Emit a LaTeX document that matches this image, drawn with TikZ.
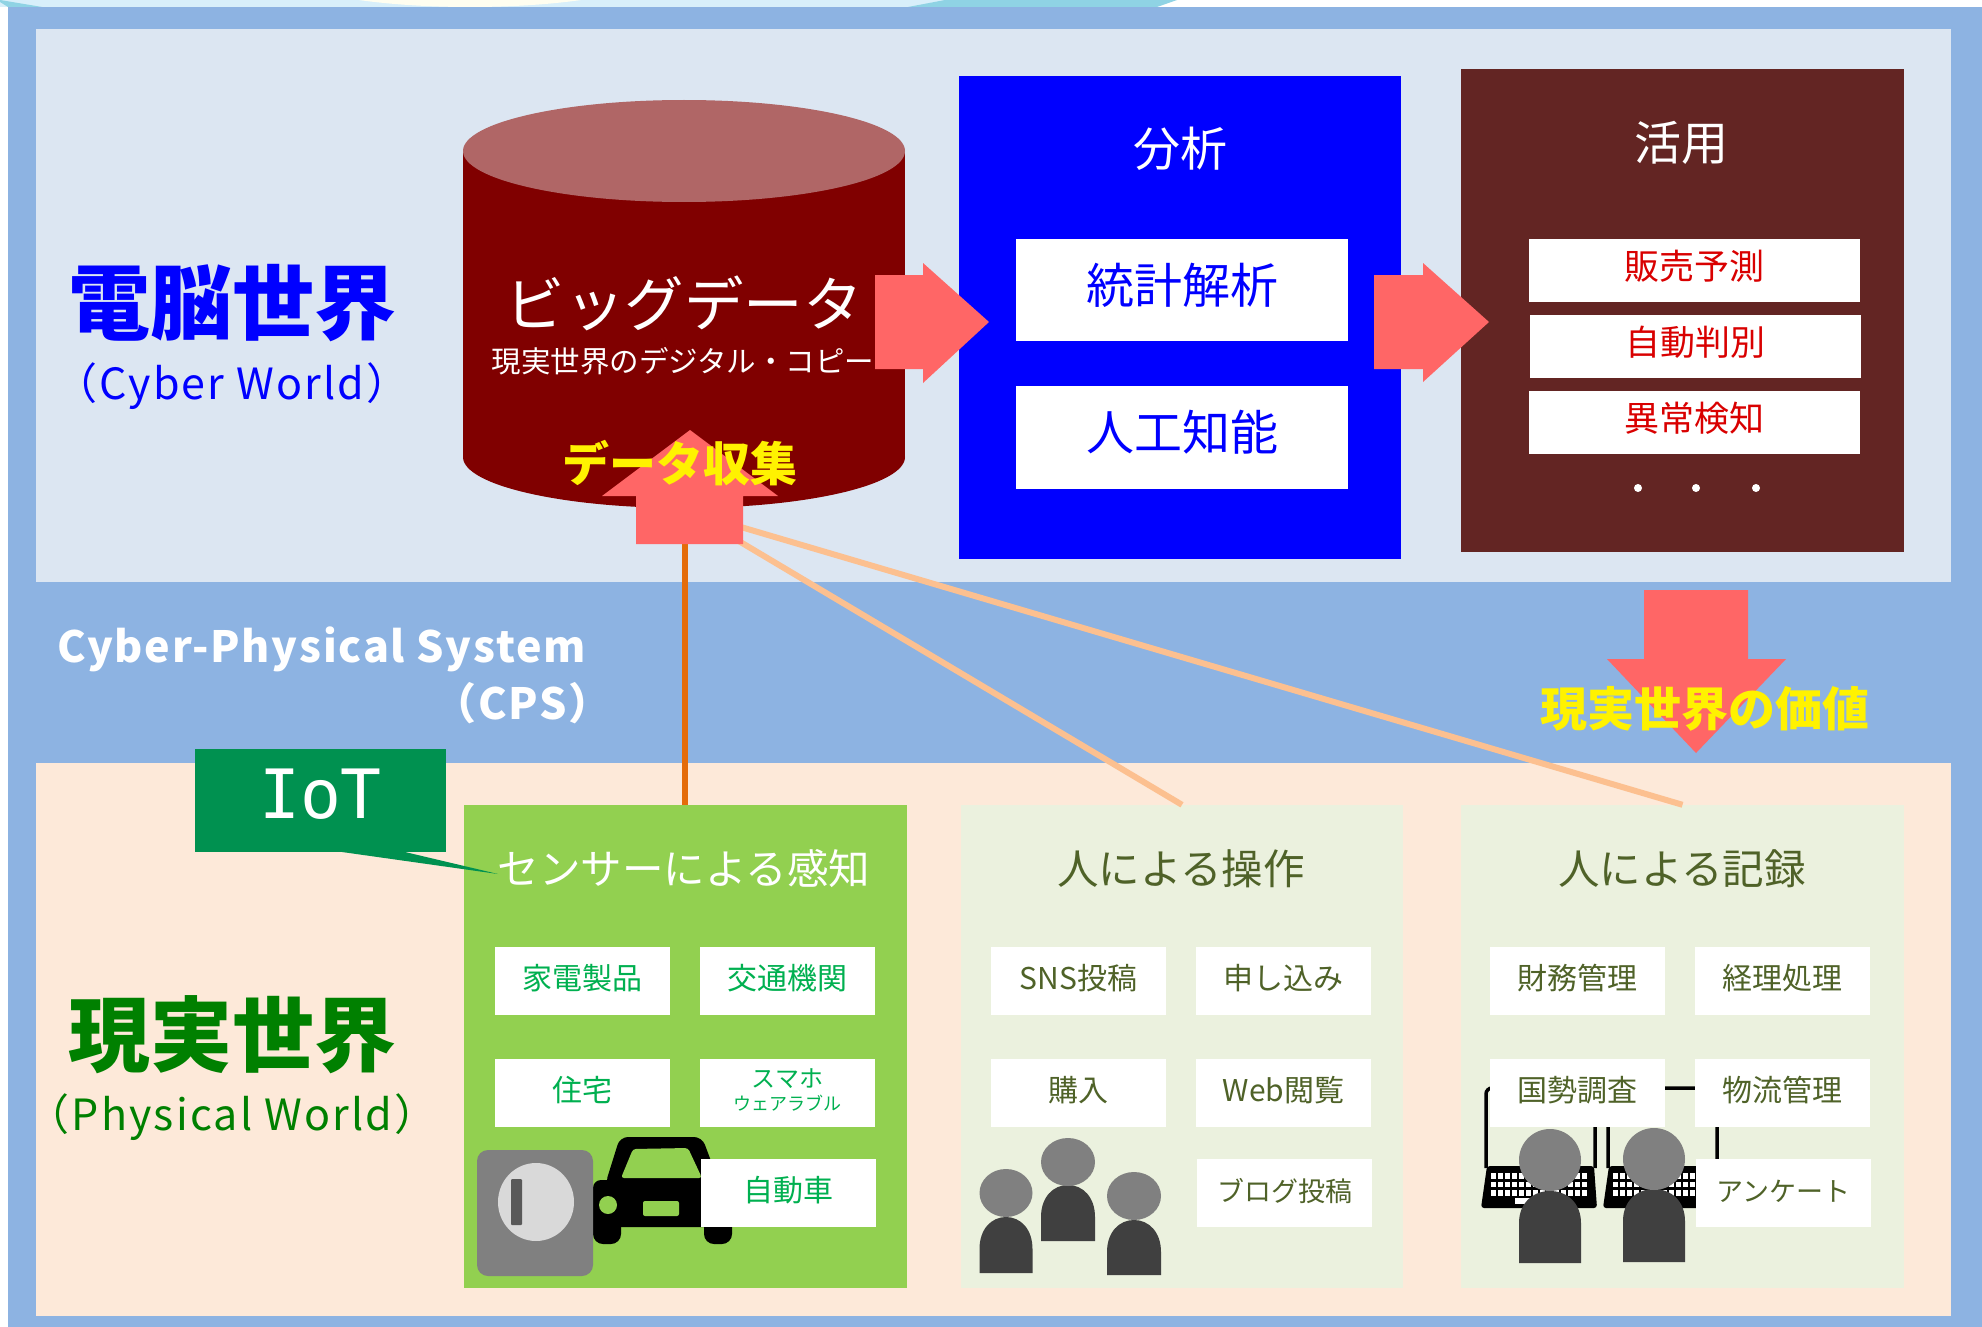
\documentclass[tikz,border=0pt]{standalone}
\usepackage{fontspec}
\usepackage{xcolor}
\setmainfont{Noto Sans CJK JP}
\newfontfamily\iotfont{DejaVu Sans Mono}
\newcommand{\fz}[1]{\fontsize{#1}{#1}\selectfont}
\newcommand{\wide}[1]{\addfontfeature{LetterSpace=#1}}
\tikzset{
  panelbox/.style={rectangle,inner sep=0pt,minimum width=443,minimum height=483},
  itembox/.style={rectangle,fill=white,inner sep=0pt,minimum width=175,minimum height=68,font=\fz{30},text height=22pt,text depth=5pt},
  analysisbox/.style={rectangle,fill=white,inner sep=0pt,minimum width=332,text=blue,font=\fz{48},text height=38pt,text depth=12pt},
  usagebox/.style={rectangle,fill=white,inner sep=0pt,minimum width=331,minimum height=63,text=red!85!black,font=\fz{35},text height=27pt,text depth=10pt},
  wordlabel/.style={inner sep=0pt,font=\fz{41.5}},
  bigarrow/.style={fill=arrowred},
  feedline/.style={draw=feedpeach,line width=6}
}
\begin{document}
\begin{tikzpicture}[x=1pt,y=-1pt]
% Define colours
\definecolor{framesky}{RGB}{141,179,226}
\definecolor{cyberpale}{RGB}{220,230,242}
\definecolor{realpale}{RGB}{253,233,217}
\definecolor{cylred}{RGB}{128,0,0}
\definecolor{cyltop}{RGB}{176,102,102}
\definecolor{usebrown}{RGB}{99,37,35}
\definecolor{arrowred}{RGB}{255,102,102}
\definecolor{feedpeach}{RGB}{252,192,144}
\definecolor{feedorange}{RGB}{228,108,10}
\definecolor{sensorgreen}{RGB}{146,208,80}
\definecolor{itemgreen}{RGB}{0,176,80}
\definecolor{iotgreen}{RGB}{0,145,80}
\definecolor{humanpale}{RGB}{235,241,222}
\definecolor{humanolive}{RGB}{79,98,40}
\definecolor{stripblue}{RGB}{216,239,250}
\definecolor{stripteal}{RGB}{143,211,228}
\useasboundingbox (0,0) rectangle (1982,1327);

% Draw strip above the frame
\fill[white] (0,0) rectangle (1982,1327);
\fill[stripblue] (0,0) rectangle (950,7);
\fill[white!70!yellow!20!white] (470,-30) ellipse [x radius=190,y radius=37];
\fill[stripteal] (908,7) -- (945,0) -- (1177,0) -- (1157,7) -- cycle;
\fill[stripteal] (0,0) -- (42,7) -- (8,7) -- (0,2) -- cycle;

% Draw frame and the two worlds
\fill[framesky] (8,7) rectangle (1982,1327);
\node[rectangle,fill=cyberpale,inner sep=0pt,minimum width=1915,minimum height=553] (cyberworld) at (993.5,305.5) {};
\node[rectangle,fill=realpale,inner sep=0pt,minimum width=1915,minimum height=553] (realworld) at (993.5,1039.5) {};

% Draw cylinder
\fill[cylred] (463,151) rectangle (905,457);
\fill[cylred] (684,457) ellipse [x radius=221,y radius=51];
\fill[cyltop] (684,151) ellipse [x radius=221,y radius=51];

% Draw cyber boxes
\node[panelbox,fill=blue,minimum width=442] (analysis) at (1180,317.5) {};
\node[panelbox,fill=usebrown] (usage) at (1682.5,310.5) {};
\node[analysisbox,minimum height=102] (stats) at (1182,290) {統計解析};
\node[analysisbox,minimum height=103] (aibox) at (1182,437.5) {人工知能};
\node[usagebox] (sales) at (1694.5,270.5) {販売予測};
\node[usagebox] (autojudge) at (1695.5,346.5) {自動判別};
\node[usagebox] (anomaly) at (1694.5,422.5) {異常検知};
\fill[white] (1638,488) circle (4);
\fill[white] (1696,488) circle (4);
\fill[white] (1756,488) circle (4);

% Draw lower panels
\node[panelbox,fill=sensorgreen] (sensor) at (685.5,1046.5) {};
\node[panelbox,fill=humanpale,minimum width=442] (operate) at (1182,1046.5) {};
\node[panelbox,fill=humanpale] (record) at (1682.5,1046.5) {};

% Draw feed lines
\coordinate (feed) at (690,512);
\draw[feedline] (feed) -- (operate.north);
\draw[feedline] (feed) -- (record.north);
\draw[draw=feedorange,line width=6] ([xshift=-1pt]sensor.north) -- ([xshift=-1pt]sensor.north |- feed);

% Draw laptops
\foreach \lx in {1486,1608}{
  \draw[line width=3.5,rounded corners=6] ({\lx},1168) -- ({\lx},1088) -- ({\lx+109},1088) -- ({\lx+109},1168);
  \fill[black,rounded corners=3] ({\lx+1},1166) -- ({\lx+108},1166) -- ({\lx+111},1208) -- ({\lx-5},1208) -- cycle;
  \foreach \ky in {1173,1181.5,1190}{
    \foreach \kk in {0,...,13}{
      \fill[white] ({\lx+5+\kk*7},\ky) rectangle ++(5,5.5);
    }
  }
  \fill[white] ({\lx+29},1198) rectangle ++(27,6);
}

% Draw items of the sensor panel
\node[itembox,text=itemgreen] (homeitem) at (582.5,981) {家電製品};
\node[itembox,text=itemgreen] (trafficitem) at (787.5,981) {交通機関};
\node[itembox,text=itemgreen] (houseitem) at (582.5,1093) {住宅};
\node[itembox,text=itemgreen,align=center,text height=,text depth=6pt] (phoneitem) at (787.5,1093) {{\fz{24}スマホ}\\[-7pt]{\fz{18}ウェアラブル}};

% Draw meter and car
\fill[black,rounded corners=8] (593,1180) rectangle (732,1227);
\fill[black,rounded corners=10] (593,1210) rectangle (621,1244);
\fill[black,rounded corners=10] (704,1210) rectangle (732,1244);
\fill[black,rounded corners=8] (605,1185) -- (620,1137) -- (702,1137) -- (720,1185) -- cycle;
\fill[sensorgreen,rounded corners=3] (621,1178) -- (633,1149) -- (688,1148) -- (702,1178) -- cycle;
\fill[sensorgreen] (608,1205) circle (9);
\fill[sensorgreen,rounded corners=2] (643,1201) rectangle (679,1216);
\fill[gray,rounded corners=11] (477,1150) rectangle (593,1276);
\fill[black!15] (536,1202) ellipse [x radius=38,y radius=39];
\fill[black!65,rounded corners=1] (511,1179) rectangle (522,1225);
\node[itembox,text=itemgreen] (caritem) at (788.5,1193) {自動車};

% Draw items of the other panels
\node[itembox,text=humanolive] (snsitem) at (1078.5,981) {SNS投稿};
\node[itembox,text=humanolive] (applyitem) at (1283.5,981) {申し込み};
\node[itembox,text=humanolive] (buyitem) at (1078.5,1093) {購入};
\node[itembox,text=humanolive] (webitem) at (1283.5,1093) {Web閲覧};
\node[itembox,text=humanolive,font=\fz{27}] (blogitem) at (1284.5,1193) {ブログ投稿};
\node[itembox,text=humanolive] (financeitem) at (1577.5,981) {財務管理};
\node[itembox,text=humanolive] (accountitem) at (1782.5,981) {経理処理};
\node[itembox,text=humanolive] (censusitem) at (1577.5,1093) {国勢調査};
\node[itembox,text=humanolive] (logisticitem) at (1782.5,1093) {物流管理};
\node[itembox,text=humanolive,font=\fz{27}] (surveyitem) at (1783.5,1193) {アンケート};

% Draw people
\foreach \hx/\hy/\rr/\ry/\bt/\bb in {1006/1193/26.5/24/1217/1273,1068/1162/27/24/1185/1241,1134/1196/27/24/1220/1275,1550/1160/31/31/1191/1263,1654/1159/31/31/1189/1262}{
  \fill[black!75] ({\hx-\rr},\bb) -- ({\hx-\rr},{\bt+32}) .. controls ({\hx-\rr},{\bt+12}) and ({\hx-0.55*\rr},\bt) .. (\hx,\bt) .. controls ({\hx+0.55*\rr},\bt) and ({\hx+\rr},{\bt+12}) .. ({\hx+\rr},{\bt+32}) -- ({\hx+\rr},\bb) -- cycle;
  \fill[gray] (\hx,\hy) ellipse [x radius=\rr,y radius=\ry];
}

% Draw block arrows
\fill[bigarrow] (875,275) -- (923,275) -- (923,263) -- (989,322) -- (923,383) -- (923,369) -- (875,369) -- cycle;
\fill[bigarrow] (1374,275) -- (1423,275) -- (1423,263) -- (1489,322) -- (1423,382) -- (1423,369) -- (1374,369) -- cycle;
\fill[bigarrow] (636,544) -- (636,496) -- (602,496) -- (690,430) -- (778,496) -- (743,496) -- (743,544) -- cycle;
\fill[bigarrow] (1644,590) -- (1748,590) -- (1748,659) -- (1786,659) -- (1696,753) -- (1607,659) -- (1644,659) -- cycle;

% Add callout
\fill[iotgreen] (342,852) -- (498,874) -- (405,852) -- cycle;
\node[rectangle,fill=iotgreen,inner sep=0pt,minimum width=251,minimum height=103,text=white,font=\iotfont\fz{68},text height=50pt,text depth=15pt] (iotbox) at (320.5,800.5) {IoT};

% Add titles
\node[wordlabel,text=white,font=\fz{59.5}] (bigdata) at (684,303) {ビッグデータ};
\node[wordlabel,text=white,font=\fz{29.5}] (bigdatasub) at (683,361) {現実世界のデジタル・コピー};
\node[wordlabel,text=yellow,font=\bfseries\fz{47}] (collecting) at (680,463) {データ収集};
\node[wordlabel,text=white,font=\fz{47}] (analysistitle) at (1180,149) {分析};
\node[wordlabel,text=white,font=\fz{47}] (usagetitle) at (1681,143) {活用};
\node[wordlabel,text=white] (sensortitle) at (684,869) {センサーによる感知};
\node[wordlabel,text=humanolive] (operatetitle) at (1181,869) {人による操作};
\node[wordlabel,text=humanolive] (recordtitle) at (1682,869) {人による記録};
\node[wordlabel,text=yellow,font=\bfseries\fz{47}] (valuelabel) at (1705,709) {現実世界の価値};

% Add world names
\node[wordlabel,text=blue,font=\bfseries\fz{82}] (cybername) at (232,303) {電脳世界};
\node[wordlabel,text=blue,font=\fz{43}\wide{5}] (cyberlatin) at (232,386) {（Cyber World）};
\node[wordlabel,text=green!50!black,font=\bfseries\fz{82}] (realname) at (232,1035) {現実世界};
\node[wordlabel,text=green!50!black,font=\fz{43}\wide{5}] (reallatin) at (232,1117) {（Physical World）};
\node[wordlabel,text=white,font=\bfseries\fz{43}\wide{4},anchor=east] (cpsname) at (586,649) {Cyber-Physical System};
\node[wordlabel,text=white,font=\bfseries\fz{43}\wide{4},anchor=east] (cpsshort) at (612,703) {（CPS）};
\end{tikzpicture}
\end{document}
